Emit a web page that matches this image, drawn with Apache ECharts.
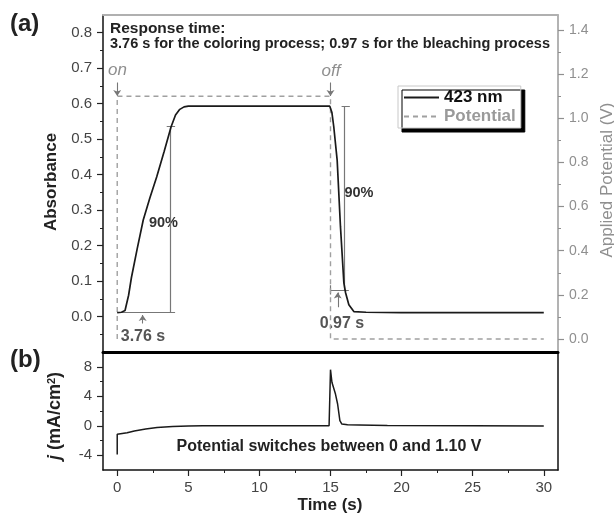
<!DOCTYPE html>
<html>
<head>
<meta charset="utf-8">
<script src="https://cdn.jsdelivr.net/npm/echarts@6/dist/echarts.min.js"></script>
<style>
  html, body { margin: 0; padding: 0; background: #fff; }
  #main { width: 614px; height: 515px; }
</style>
</head>
<body>
<div id="main"></div>
<script>
// (a) absorbance at 423 nm
var absTime  = [0, 0.3, 0.55, 0.8, 1.0, 1.4, 1.83, 2.3, 2.78, 3.3, 3.79, 4.1, 4.4, 4.7, 5.0, 6, 10, 14.95, 15.1, 15.23, 15.47, 15.7, 15.94, 16.06, 16.29, 16.64, 17.5, 20, 25, 30];
var absValue = [0.011, 0.012, 0.017, 0.06, 0.11, 0.19, 0.272, 0.335, 0.394, 0.465, 0.535, 0.568, 0.584, 0.591, 0.593, 0.593, 0.593, 0.593, 0.575, 0.535, 0.44, 0.254, 0.095, 0.067, 0.033, 0.014, 0.012, 0.011, 0.011, 0.011];

// applied potential (V)
var potTime  = [0, 0, 15, 15, 30];
var potValue = [0, 1.1, 1.1, 0, 0];

// (b) current density (mA/cm2)
var curTime  = [0, 0, 0.1, 0.7, 1.2, 2, 2.8, 3.9, 5, 6, 8, 10, 12, 14.9, 15.0, 15.1, 15.35, 15.5, 15.66, 15.8, 16.2, 17, 19, 25, 30];
var curValue = [-3.9, -1.15, -1.2, -0.95, -0.7, -0.45, -0.25, -0.1, -0.02, 0, 0, 0, 0, 0, 7.6, 5.9, 4.3, 2.95, 0.7, 0.23, 0.12, 0.1, 0.05, 0, -0.05];

// tick labels
var timeTicks = [0, 5, 10, 15, 20, 25, 30];
var timeMinor = [2.5, 7.5, 12.5, 17.5, 22.5, 27.5];
var absTicks  = [0, 0.1, 0.2, 0.3, 0.4, 0.5, 0.6, 0.7, 0.8];
var absMinor  = [-0.05, 0.05, 0.15, 0.25, 0.35, 0.45, 0.55, 0.65, 0.75];
var potTicks  = [0, 0.2, 0.4, 0.6, 0.8, 1.0, 1.2, 1.4];
var potMinor  = [0.1, 0.3, 0.5, 0.7, 0.9, 1.1, 1.3];
var curTicks  = [-4, 0, 4, 8];
var curMinor  = [-2, 2, 6];

// response-time brackets and arrows, in (time, absorbance) units
var colorBracket  = [[[0, 0.011], [4.07, 0.011]], [[3.76, 0.011], [3.76, 0.535]], [[3.48, 0.535], [4.07, 0.535]]];
var bleachBracket = [[[15, 0.075], [16.29, 0.075]], [[15, 0.062], [15, 0.088]], [[15.97, 0.075], [15.97, 0.593]], [[15.78, 0.593], [16.36, 0.593]]];
var arrowLines    = [[[0, 0.66], [0, 0.622]], [[15, 0.66], [15, 0.622]], [[1.79, -0.02], [1.79, 0.004]], [[15.51, 0.026], [15.51, 0.068]]];

var font = 'Liberation Sans, Arial, sans-serif';
var grey = '#8f8f8f';

var chart = echarts.init(document.getElementById('main'));

function zip(a, b) {
  return a.map(function (v, i) { return [v, b[i]]; });
}

function hiddenAxis(extra) {
  var base = {
    type: 'value',
    axisLine: { show: false, onZero: false },
    axisTick: { show: false },
    axisLabel: { show: false },
    splitLine: { show: false }
  };
  return Object.assign(base, extra);
}

function minorAxis(extra, values, color) {
  return hiddenAxis(Object.assign({
    axisTick: { show: true, customValues: values, length: 3, lineStyle: { color: color, width: 1 } }
  }, extra));
}

function txt(x, y, text, size, opts) {
  opts = opts || {};
  return {
    type: 'text',
    x: x, y: y,
    rotation: opts.rot || 0,
    style: {
      text: text,
      align: opts.align || 'center',
      verticalAlign: 'middle',
      fontFamily: font,
      fontSize: size,
      fontWeight: opts.weight || 'bold',
      fontStyle: opts.style || 'normal',
      fill: opts.color || '#222',
      rich: opts.rich
    }
  };
}

var option = {
  animation: false,
  textStyle: { fontFamily: font },
  grid: [
    { left: 103, right: 56, top: 15, height: 337 },
    { left: 103, right: 56, top: 352, height: 118 }
  ],
  xAxis: [
    hiddenAxis({ gridIndex: 0, min: -1, max: 31, position: 'bottom', axisLine: { show: true, onZero: false, lineStyle: { color: '#000', width: 3 } } }),
    hiddenAxis({ gridIndex: 0, min: -1, max: 31, position: 'top', axisLine: { show: true, onZero: false, lineStyle: { color: '#b0b0b0', width: 2 } } }),
    {
      gridIndex: 1, type: 'value', min: -1, max: 31, position: 'bottom',
      axisLine: { onZero: false, lineStyle: { color: '#111', width: 1.5 } },
      axisTick: { customValues: timeTicks, length: 6, lineStyle: { color: '#222', width: 1.2 } },
      axisLabel: { customValues: timeTicks, margin: 10, fontSize: 15, color: '#444' },
      splitLine: { show: false }
    },
    minorAxis({ gridIndex: 1, min: -1, max: 31, position: 'bottom' }, timeMinor, '#222')
  ],
  yAxis: [
    {
      gridIndex: 0, type: 'value', min: -0.1, max: 0.85, position: 'left',
      axisLine: { onZero: false, lineStyle: { color: '#111', width: 1.5 } },
      axisTick: { customValues: absTicks, length: 6, lineStyle: { color: '#222', width: 1.2 } },
      axisLabel: { customValues: absTicks, margin: 11, fontSize: 15, color: '#444', formatter: function (v) { return v.toFixed(1); } },
      splitLine: { show: false }
    },
    minorAxis({ gridIndex: 0, min: -0.1, max: 0.85, position: 'left' }, absMinor, '#222'),
    {
      gridIndex: 0, type: 'value', min: -0.059, max: 1.468, position: 'right',
      axisLine: { onZero: false, lineStyle: { color: '#9a9a9a', width: 1.5 } },
      axisTick: { customValues: potTicks, length: 6, lineStyle: { color: grey, width: 1.2 } },
      axisLabel: { customValues: potTicks, margin: 11, fontSize: 14, color: grey, formatter: function (v) { return v.toFixed(1); } },
      splitLine: { show: false }
    },
    minorAxis({ gridIndex: 0, min: -0.059, max: 1.468, position: 'right' }, potMinor, grey),
    {
      gridIndex: 1, type: 'value', min: -6, max: 10, position: 'left',
      axisLine: { onZero: false, lineStyle: { color: '#111', width: 1.5 } },
      axisTick: { customValues: curTicks, length: 6, lineStyle: { color: '#222', width: 1.2 } },
      axisLabel: { customValues: curTicks, margin: 11, fontSize: 15, color: '#444' },
      splitLine: { show: false }
    },
    minorAxis({ gridIndex: 1, min: -6, max: 10, position: 'left' }, curMinor, '#222'),
    hiddenAxis({ gridIndex: 1, min: -6, max: 10, position: 'right', axisLine: { show: true, onZero: false, lineStyle: { color: '#111', width: 1.5 } } })
  ],
  legend: {
    orient: 'vertical',
    left: 398, top: 86,
    padding: [3, 5, 3, 5],
    itemGap: 2,
    itemWidth: 35,
    itemHeight: 14,
    backgroundColor: '#fff',
    borderColor: '#c8c8c8',
    borderWidth: 1,
    shadowColor: '#000',
    shadowBlur: 0,
    shadowOffsetX: 4,
    shadowOffsetY: 4,
    itemStyle: { opacity: 0 },
    textStyle: { fontSize: 17, fontWeight: 'bold' },
    data: [
      { name: '423 nm', textStyle: { color: '#111' } },
      { name: 'Potential', textStyle: { color: '#9a9a9a' } }
    ]
  },
  series: [
    {
      name: 'Potential', type: 'line', xAxisIndex: 0, yAxisIndex: 2,
      data: zip(potTime, potValue), symbol: 'none',
      lineStyle: { color: '#a0a0a0', width: 1.4, type: [5, 4] },
      itemStyle: { color: '#a0a0a0', opacity: 0 }
    },
    {
      name: '423 nm', type: 'line', xAxisIndex: 0, yAxisIndex: 0,
      data: zip(absTime, absValue), symbol: 'none',
      lineStyle: { color: '#1a1a1a', width: 1.7 },
      itemStyle: { color: '#1a1a1a', opacity: 0 }
    },
    {
      name: 'brackets', type: 'lines', coordinateSystem: 'cartesian2d', xAxisIndex: 0, yAxisIndex: 0,
      data: colorBracket.concat(bleachBracket).map(function (c) { return { coords: c }; }),
      lineStyle: { color: '#777', width: 1.2, opacity: 1 },
      symbol: 'none'
    },
    {
      name: 'arrows', type: 'lines', coordinateSystem: 'cartesian2d', xAxisIndex: 0, yAxisIndex: 0,
      data: arrowLines.map(function (c) { return { coords: c }; }),
      lineStyle: { color: '#777', width: 1.1, opacity: 1 },
      symbol: ['none', 'arrow'], symbolSize: 6
    },
    {
      name: 'current', type: 'line', xAxisIndex: 2, yAxisIndex: 4,
      data: zip(curTime, curValue), symbol: 'none',
      lineStyle: { color: '#1a1a1a', width: 1.5 },
      itemStyle: { color: '#1a1a1a' }
    }
  ],
  graphic: [
    txt(10, 24, '(a)', 24, { align: 'left' }),
    txt(10, 360, '(b)', 24, { align: 'left' }),
    txt(110, 29, 'Response time:', 15.5, { align: 'left' }),
    txt(110, 44, '3.76 s for the coloring process; 0.97 s for the bleaching process', 14.5, { align: 'left' }),
    txt(117.5, 70, 'on', 17, { weight: 'normal', style: 'italic', color: grey }),
    txt(331, 71, 'off', 17, { weight: 'normal', style: 'italic', color: grey }),
    txt(163.5, 223, '90%', 14.5, { color: '#333' }),
    txt(359, 193, '90%', 14.5, { color: '#333' }),
    txt(143, 337, '3.76 s', 16, { color: '#555' }),
    txt(342, 324, '0.97 s', 16, { color: '#555' }),
    txt(329, 447, 'Potential switches between 0 and 1.10 V', 16),
    txt(51, 182, 'Absorbance', 17, { rot: Math.PI / 2 }),
    txt(55, 416, '{i|j} (mA/cm{s|2})', 18, {
      rot: Math.PI / 2,
      rich: {
        i: { fontStyle: 'italic', fontWeight: 'bold', fontSize: 18, fontFamily: font },
        s: { fontSize: 11, fontWeight: 'bold', verticalAlign: 'top', fontFamily: font }
      }
    }),
    txt(607, 180, 'Applied Potential (V)', 17, { rot: Math.PI / 2, weight: 'normal', color: grey }),
    txt(330, 505, 'Time (s)', 17)
  ]
};

chart.setOption(option);
</script>
</body>
</html>
